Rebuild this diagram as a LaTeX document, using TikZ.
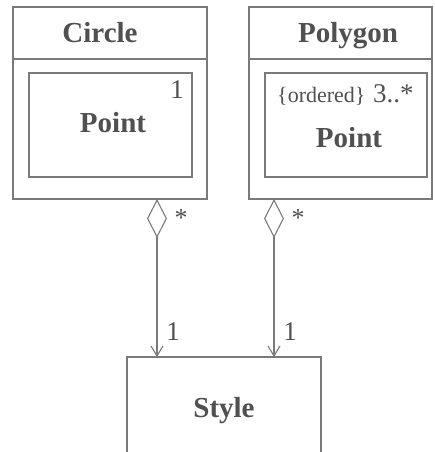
\documentclass[tikz,border=0pt]{standalone}
\usepackage{fontspec}
\setmainfont{Liberation Serif}
\usetikzlibrary{arrows.meta}
\definecolor{linec}{HTML}{7A7A7A}
\definecolor{textc}{HTML}{505050}
\begin{document}
\begin{tikzpicture}[x=1pt,y=-1pt,
  box/.style={draw=linec,line width=1.1pt},
  title/.style={anchor=base,text=textc,font=\fontsize{29}{31}\selectfont\bfseries,inner sep=0pt},
  mult/.style={anchor=base,text=textc,font=\fontsize{27}{29}\selectfont,inner sep=0pt},
  star/.style={anchor=center,text=textc,font=\fontsize{26}{28}\selectfont,inner sep=0pt},
  assoc/.style={draw=linec,line width=1.1pt,
    {Diamond[open,length=39pt,width=20pt,line width=1.1pt]}-{Straight Barb[length=10pt,width=12pt,line width=1.1pt]}}]
\useasboundingbox[fill=white] (0,0) rectangle (434,452);
% Circle class
\draw[box] (13,7) rectangle (207,199);
\draw[box] (13,59) -- (207,59);
\node[title] (circname) at (100,42) {Circle};
\draw[box] (29,73) rectangle (192,177);
\node[title] (cpoint) at (113,132) {Point};
\node[mult] (cone) at (177,98) {1};
\coordinate (cbot) at (157,199);
% Polygon class
\draw[box] (249,7) rectangle (432,199);
\draw[box] (249,59) -- (432,59);
\node[title] (polyname) at (348,42) {Polygon};
\draw[box] (265,73) rectangle (427,177);
\node[title] (ppoint) at (349,147) {Point};
\node[anchor=base west,text=textc,inner sep=0pt,font=\fontsize{22}{24}\selectfont] (ord) at (277,102) {\{ordered\}};
\node[mult,anchor=base west] (pmult) at (373,102) {3..*};
\coordinate (pbot) at (274,199);
% Style class
\draw[box] (127,357) rectangle (321,470);
\node[title] (style) at (224,417) {Style};
\coordinate (stl) at (157,357);
\coordinate (str) at (274,357);
% associations
\draw[assoc] (cbot) -- (stl);
\draw[assoc] (pbot) -- (str);
\node[star] (cs) at (181,218) {*};
\node[star] (ps) at (298,218) {*};
\node[mult] (c1) at (173,340) {1};
\node[mult] (p1) at (290,340) {1};
\end{tikzpicture}
\end{document}
